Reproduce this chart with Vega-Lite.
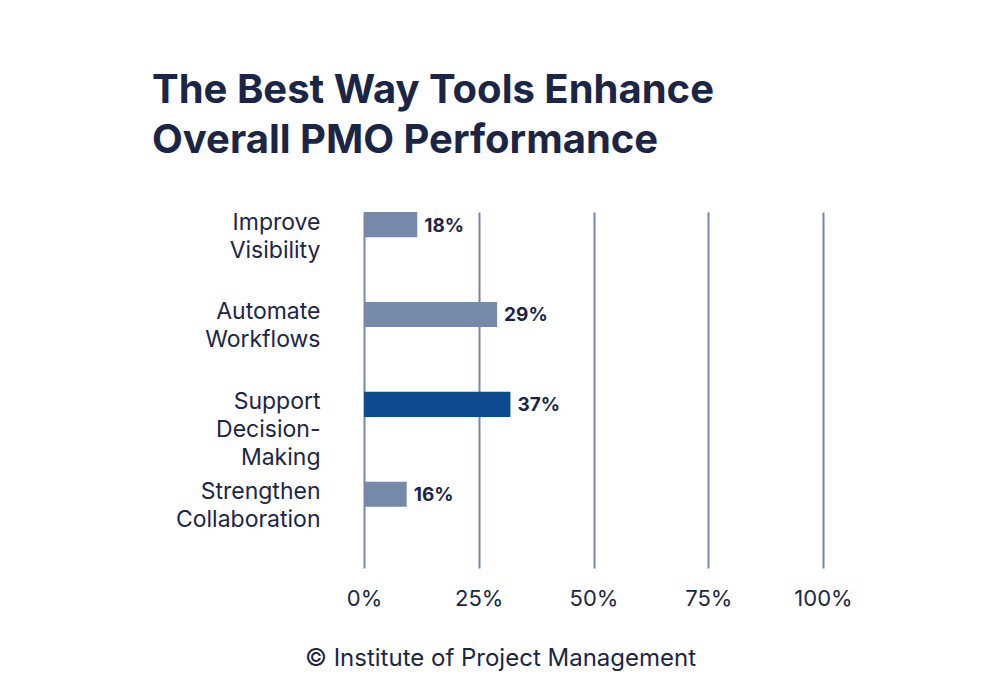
{
  "$schema": "https://vega.github.io/schema/vega-lite/v6.json",
  "width": 459,
  "height": 356,
  "autosize": {"type": "none"},
  "padding": {"left": 364, "top": 212, "right": 177, "bottom": 132},
  "background": "white",
  "config": {"view": {"stroke": null}},
  "title": {
    "text": ["The Best Way Tools Enhance", "Overall PMO Performance"],
    "anchor": "start",
    "frame": "group",
    "dx": -212,
    "offset": 50,
    "fontSize": 40,
    "fontWeight": "bold",
    "font": "Inter",
    "color": "#1b2647",
    "lineHeight": 50
  },
  "data": {
    "values": [
      {"category": "Improve Visibility", "value": 0.116, "label": "18%"},
      {"category": "Automate Workflows", "value": 0.29, "label": "29%"},
      {"category": "Support Decision-Making", "value": 0.319, "label": "37%"},
      {"category": "Strengthen Collaboration", "value": 0.093, "label": "16%"}
    ]
  },
  "encoding": {
    "y": {
      "field": "category",
      "type": "nominal",
      "sort": null,
      "scale": {"paddingInner": 0.72, "paddingOuter": 0.34, "align": 0},
      "axis": {
        "title": null,
        "domain": false,
        "ticks": false,
        "labelPadding": 44,
        "labelFontSize": 23,
        "labelFont": "Inter",
        "labelColor": "#1b2647",
        "labelBaseline": "alphabetic",
        "labelLineHeight": 28,
        "labelOffset": 5,
        "labelLimit": 300,
        "labelExpr": "split(replace(replace(datum.label, ' ', '|'), '-', '-|'), '|')"
      }
    }
  },
  "layer": [
    {
      "mark": {"type": "bar"},
      "encoding": {
        "x": {
          "field": "value",
          "type": "quantitative",
          "scale": {"domain": [0, 1]},
          "axis": {
            "values": [0, 0.25, 0.5, 0.75, 1],
            "format": ".0%",
            "grid": true,
            "gridColor": "#7687a8",
            "gridWidth": 2,
            "gridOpacity": 1,
            "domain": false,
            "ticks": false,
            "tickSize": 0,
            "labelFlush": false,
            "labelPadding": 20,
            "labelFontSize": 22,
            "labelFont": "Inter",
            "labelColor": "#1b2647",
            "title": "© Institute of Project Management",
            "titleFont": "Inter",
            "titleFontSize": 24,
            "titleFontWeight": "normal",
            "titleColor": "#1b2647",
            "titleX": 136,
            "titleY": 97,
            "titleAlign": "center",
            "titleBaseline": "alphabetic"
          }
        },
        "color": {
          "condition": {"test": "datum.category === 'Support Decision-Making'", "value": "#0d4b8e"},
          "value": "#7689aa"
        }
      }
    },
    {
      "mark": {"type": "text", "align": "left", "baseline": "middle", "dx": 7, "dy": 1, "fontWeight": "bold", "fontSize": 19, "font": "Inter", "color": "#1b2647"},
      "encoding": {
        "x": {"field": "value", "type": "quantitative"},
        "text": {"field": "label"}
      }
    }
  ]
}
